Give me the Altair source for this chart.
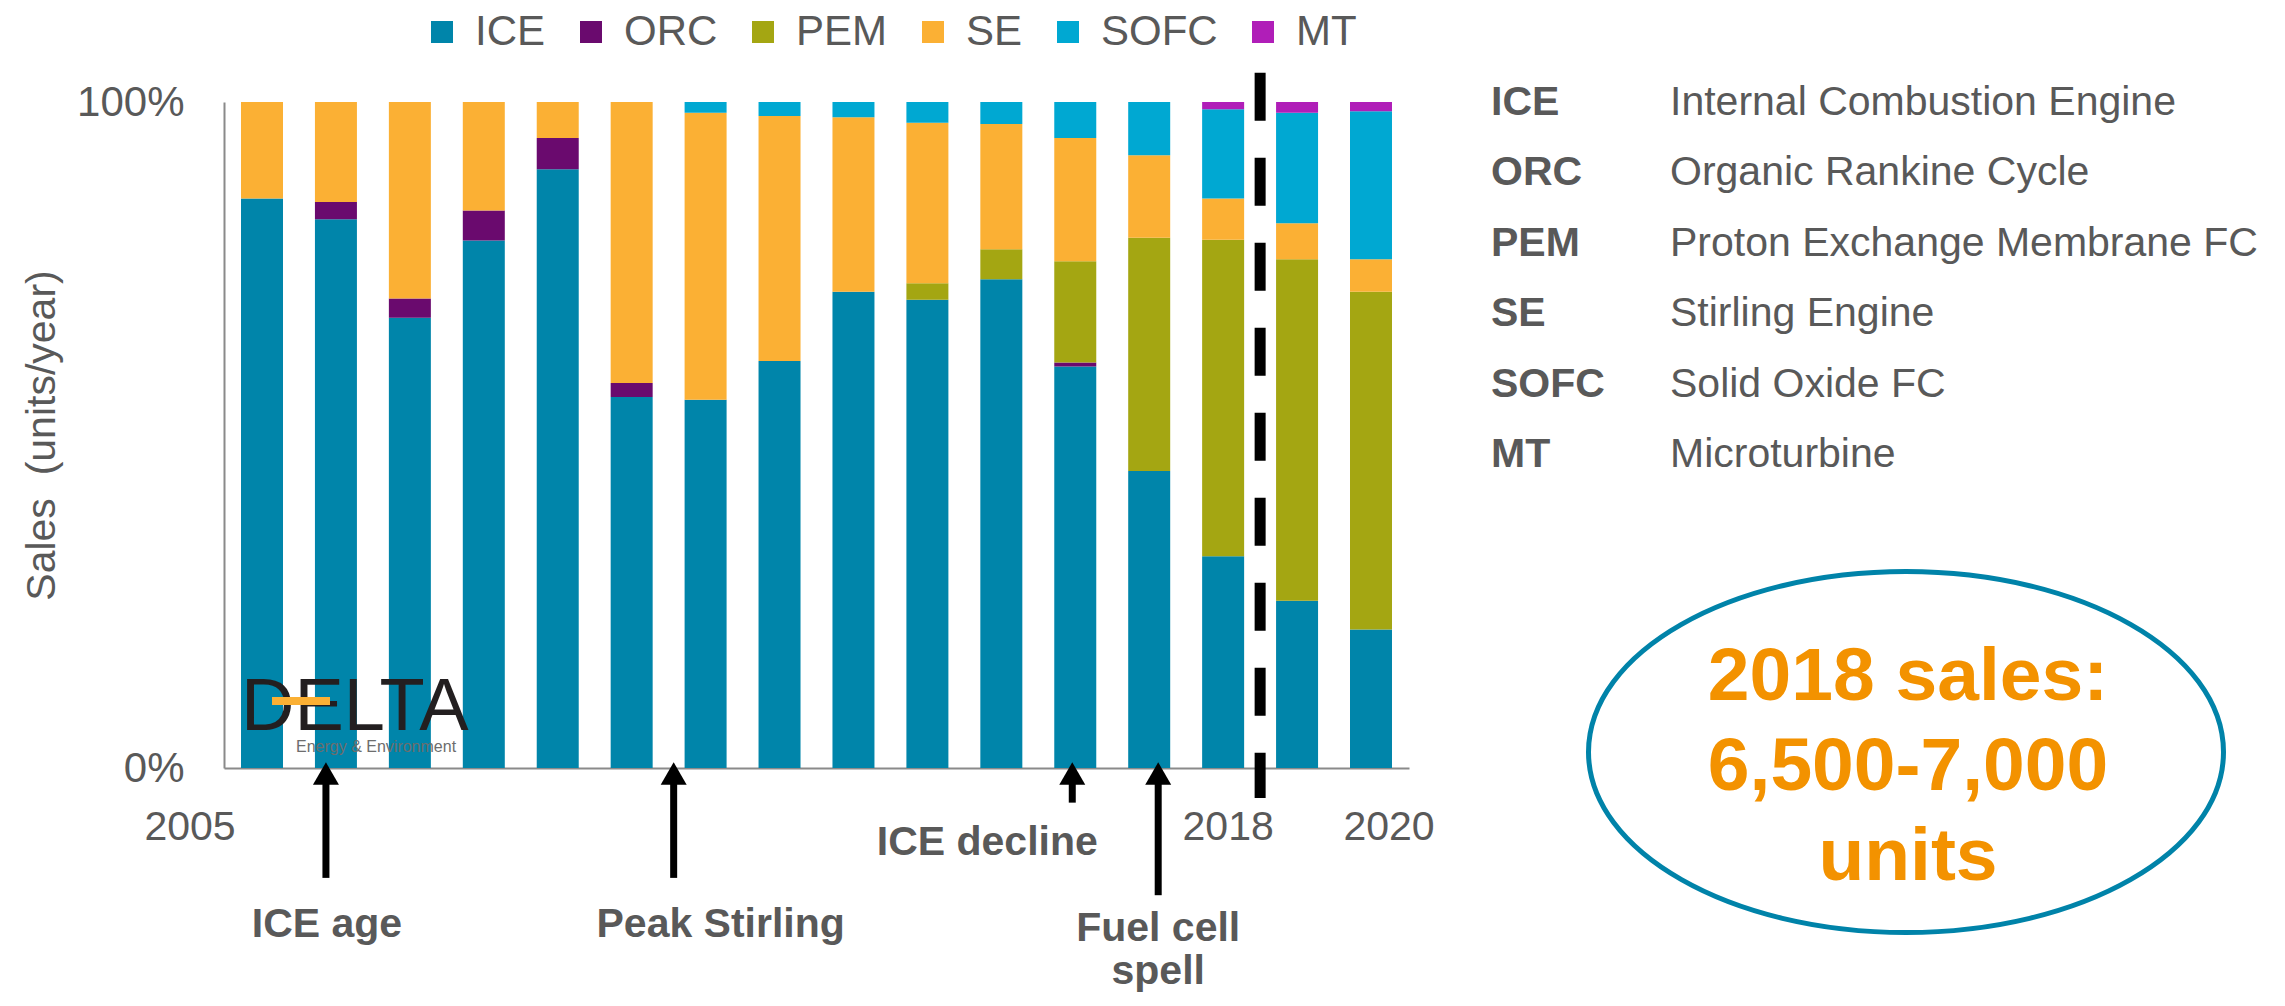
import altair as alt
import pandas as pd

# ---------------- data ----------------
years = [str(y) for y in range(2005, 2021)]
techs = ["ICE", "ORC", "PEM", "SE", "SOFC", "MT"]
tech_colors = ["#0085AA", "#6A0A6E", "#A4A612", "#FBB034", "#00A8D2", "#B01EB8"]

ICE = [85.5, 82.4, 67.6, 79.2, 89.9, 55.7, 55.3, 61.1, 71.5, 70.3, 73.4, 60.3, 44.6, 31.8, 25.1, 20.8]
ORC = [0, 2.6, 2.9, 4.5, 4.7, 2.1, 0, 0, 0, 0, 0, 0.6, 0, 0, 0, 0]
PEM = [0, 0, 0, 0, 0, 0, 0, 0, 0, 2.5, 4.5, 15.2, 35.0, 47.5, 51.3, 50.7]
SE = [14.5, 15.0, 29.5, 16.3, 5.4, 42.2, 43.1, 36.8, 26.2, 24.1, 18.8, 18.5, 12.4, 6.2, 5.4, 4.9]
SOFC = [0, 0, 0, 0, 0, 0, 1.6, 2.1, 2.3, 3.1, 3.3, 5.4, 8.0, 13.4, 16.6, 22.2]
MT = [0, 0, 0, 0, 0, 0, 0, 0, 0, 0, 0, 0, 0, 1.1, 1.6, 1.4]
series = {"ICE": ICE, "ORC": ORC, "PEM": PEM, "SE": SE, "SOFC": SOFC, "MT": MT}

year_labels = ["2005", "2018", "2020"]
year_label_dx = [-72, 5, 18]

definitions_abbr = ["ICE", "ORC", "PEM", "SE", "SOFC", "MT"]
definitions_full = ["Internal Combustion Engine", "Organic Rankine Cycle",
                    "Proton Exchange Membrane FC", "Stirling Engine",
                    "Solid Oxide FC", "Microturbine"]

arrow_years = ["2006", "2010", "2016", "2017"]
arrow_dx = [-10, 42, -3, 9]
arrow_tail = [-0.165, -0.165, -0.052, -0.191]

note_text = [["ICE age"], ["Peak Stirling"], ["ICE decline"], ["Fuel cell", "spell"]]
note_years = ["2006", "2010", "2016", "2017"]
note_dx = [-9, 89, -88, 9]
note_y = [-0.254, -0.254, -0.131, -0.260]

callout = ["2018 sales:", "6,500-7,000", "units"]

# ---------------- styling ----------------
FONT = "Liberation Sans"
GRAY = "#595959"
AXIS_GRAY = "#8a8a8a"
W, H = 1185, 666

rows = []
for yi, yr in enumerate(years):
    for k, t in enumerate(techs):
        rows.append({"year": yr, "tech": t, "share": series[t][yi], "k": k})
df = pd.DataFrame(rows)

x_scale = alt.Scale(domain=years, paddingInner=0.432, paddingOuter=0.23)
y_scale = alt.Scale(domain=[0, 1], nice=False, zero=True)
x_axis = alt.Axis(labels=False, ticks=False, title=None, grid=False,
                  domainColor=AXIS_GRAY, domainWidth=2)
y_axis = alt.Axis(values=[0, 1], format=".0%", grid=False, ticks=False,
                  labelFontSize=42, labelFont=FONT, labelColor=GRAY,
                  labelPadding=40, domainColor=AXIS_GRAY, domainWidth=2,
                  title="Sales\u00a0 (units/year)", titleFont=FONT,
                  titleFontSize=41, titleFontWeight="normal",
                  titleColor=GRAY, titlePadding=13)

X = alt.X("year:O", scale=x_scale, axis=x_axis)


def Y(field, **kw):
    return alt.Y(field, scale=y_scale, axis=y_axis, **kw)


bars = alt.Chart(df).mark_bar().encode(
    x=X,
    y=Y("share:Q", stack="normalize"),
    color=alt.Color("tech:N", scale=alt.Scale(domain=techs, range=tech_colors),
                    legend=alt.Legend(orient="none", legendX=197, legendY=-91,
                                      direction="horizontal", title=None,
                                      symbolType="square", symbolSize=484,
                                      symbolStrokeWidth=0, labelFontSize=42,
                                      labelFont=FONT, labelColor=GRAY,
                                      columnPadding=24, labelOffset=12)),
    order=alt.Order("k:Q"),
)

layers = [bars]

# year labels
yl = pd.DataFrame({"year": year_labels, "y": [-0.108] * 3, "t": year_labels})
for i, yr in enumerate(year_labels):
    layers.append(
        alt.Chart(yl.iloc[[i]]).mark_text(
            dx=year_label_dx[i], align="center", baseline="alphabetic",
            font=FONT, fontSize=41, color=GRAY
        ).encode(x=X, y=Y("y:Q"), text="t:N")
    )

# dashed separator after 2018
dash = pd.DataFrame({"year": ["2018"], "y1": [1.044], "y2": [-0.045]})
layers.append(
    alt.Chart(dash).mark_rule(color="black", strokeWidth=11, strokeDash=[48, 37],
                              xOffset=37).encode(x=X, y=Y("y1:Q"), y2="y2:Q")
)

# arrows
for i, yr in enumerate(arrow_years):
    d = pd.DataFrame({"year": [yr], "y1": [-0.018], "y2": [arrow_tail[i]], "yh": [-0.0083]})
    layers.append(
        alt.Chart(d).mark_rule(color="black", strokeWidth=7, xOffset=arrow_dx[i])
        .encode(x=X, y=Y("y1:Q"), y2="y2:Q")
    )
    layers.append(
        alt.Chart(d).mark_point(shape="triangle-up", size=676, filled=True,
                                color="black", opacity=1, strokeWidth=0,
                                xOffset=arrow_dx[i])
        .encode(x=X, y=Y("yh:Q"))
    )

# arrow notes
for i, yr in enumerate(note_years):
    d = pd.DataFrame({"year": [yr], "y": [note_y[i]]})
    layers.append(
        alt.Chart(d).mark_text(text=note_text[i], dx=note_dx[i], align="center",
                               baseline="alphabetic", font=FONT, fontSize=41,
                               fontWeight="bold", color=GRAY, lineHeight=43)
        .encode(x=X, y=Y("y:Q"))
    )

# DELTA logo
logo = pd.DataFrame({"year": ["2005"], "y": [0.0571], "y2": [0.024], "yb": [0.1006]})
layers.append(
    alt.Chart(logo).mark_text(text="DELTA", dx=-21, align="left", baseline="alphabetic",
                              font=FONT, fontSize=74, color="#231f20")
    .encode(x=X, y=Y("y:Q"))
)
layers.append(
    alt.Chart(logo).mark_text(text="Energy & Environment", dx=34, align="left",
                              baseline="alphabetic", font=FONT, fontSize=16,
                              color="#6d6d6d")
    .encode(x=X, y=Y("y2:Q"))
)
layers.append(
    alt.Chart(logo).mark_rule(color="#FBB034", strokeWidth=8, xOffset=10, x2Offset=68)
    .encode(x=X, x2="year:O", y=Y("yb:Q"))
)

# definitions list
defs = pd.DataFrame({"abbr": definitions_abbr, "full": definitions_full,
                     "i": list(range(len(definitions_abbr)))})
defs_base = alt.Chart(defs).transform_calculate(y="0.9805 - datum.i * 0.1057")
layers.append(
    defs_base.mark_text(align="left", baseline="alphabetic", font=FONT, fontSize=41,
                        fontWeight="bold", color=GRAY)
    .encode(x=alt.value(1267), y=Y("y:Q"), text="abbr:N")
)
layers.append(
    defs_base.mark_text(align="left", baseline="alphabetic", font=FONT, fontSize=41,
                        color=GRAY)
    .encode(x=alt.value(1446), y=Y("y:Q"), text="full:N")
)

# callout ellipse
ell = pd.DataFrame({"y": [0.024]})
layers.append(
    alt.Chart(ell).mark_point(
        shape="M -1 0 A 1 0.5685 0 1 1 1 0 A 1 0.5685 0 1 1 -1 0 Z",
        size=635 * 635, filled=False, stroke="#0083A9", strokeWidth=5,
        fill="white", fillOpacity=1, opacity=1
    ).encode(x=alt.value(1682), y=Y("y:Q"))
)
layers.append(
    alt.Chart(pd.DataFrame({"y": [0.102]})).mark_text(
        text=callout, align="center", baseline="alphabetic", font=FONT,
        fontSize=75, fontWeight="bold", color="#F39200", lineHeight=90
    ).encode(x=alt.value(1684), y=Y("y:Q"))
)

chart = alt.layer(*layers).properties(
    width=W, height=H,
    padding={"left": 216, "top": 94, "right": 860, "bottom": 225},
    autosize=alt.AutoSizeParams(type="none"),
    background="white",
).configure_view(stroke=None)

chart.save("out.html", embed_options={"renderer": "svg", "actions": False})
